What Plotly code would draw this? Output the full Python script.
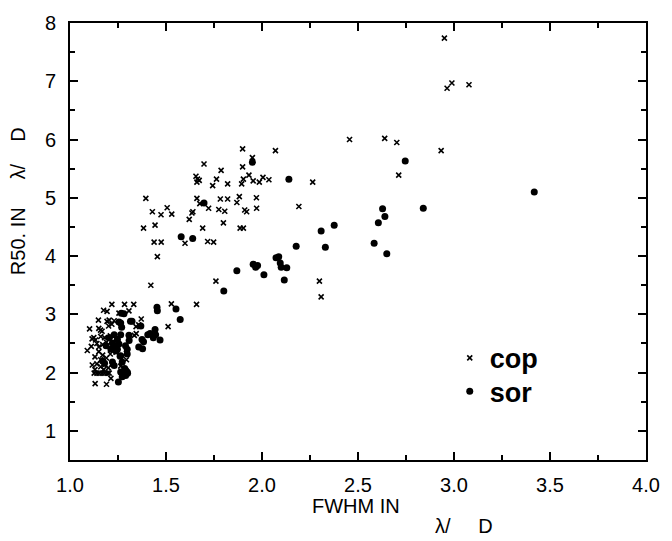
import plotly.graph_objects as go

# ---- data ----
cop_x = [2.950, 2.989, 2.964, 3.078, 2.456, 2.639, 2.702, 2.933, 2.712,
         1.899, 1.950, 2.070, 1.698, 1.787, 1.899,
         1.656, 1.664, 1.661, 1.673, 1.763, 1.743, 1.821, 1.903, 1.894, 1.932, 1.954, 1.986, 2.005, 2.036, 2.264,
         1.395, 1.661, 1.783, 1.821, 1.882, 1.971, 1.869, 2.192, 1.676, 1.722, 1.775, 1.806, 1.910, 1.920, 1.972,
         1.506, 1.429, 1.474, 1.530, 1.635, 1.640, 1.621, 1.383, 1.443, 1.691, 1.799, 1.886, 1.903,
         1.438, 1.475, 1.599, 1.717, 1.748, 1.455,
         1.760, 1.421, 2.299, 2.308,
         1.218, 1.284, 1.332, 1.528, 1.659, 1.511,
         1.175, 1.193, 1.307, 1.255,
         1.148, 1.204, 1.193, 1.230, 1.218, 1.201, 1.371, 1.344, 1.358,
         1.102, 1.150, 1.167, 1.159, 1.335, 1.345,
         1.124, 1.133, 1.115, 1.160, 1.180, 1.210, 1.240,
         1.090, 1.111, 1.140, 1.150, 1.170, 1.190, 1.220, 1.250,
         1.150, 1.170, 1.130, 1.160, 1.190, 1.210, 1.294, 1.294, 1.240,
         1.116, 1.140, 1.160, 1.180, 1.200, 1.264, 1.220,
         1.126, 1.140, 1.153, 1.167, 1.180, 1.194, 1.204,
         1.131, 1.190, 1.213, 1.130, 1.175]
cop_y = [7.74, 6.97, 6.88, 6.94, 6.00, 6.02, 5.95, 5.81, 5.39,
         5.84, 5.69, 5.81, 5.58, 5.47, 5.53,
         5.37, 5.32, 5.27, 5.30, 5.32, 5.21, 5.24, 5.32, 5.24, 5.39, 5.29, 5.27, 5.35, 5.31, 5.27,
         4.99, 4.99, 4.98, 4.98, 5.02, 5.00, 4.92, 4.85, 4.90, 4.82, 4.80, 4.77, 4.79, 4.76, 4.82,
         4.83, 4.76, 4.71, 4.72, 4.74, 4.76, 4.63, 4.48, 4.53, 4.48, 4.57, 4.48, 4.48,
         4.24, 4.24, 4.22, 4.25, 4.24, 3.99,
         3.57, 3.50, 3.57, 3.30,
         3.17, 3.17, 3.17, 3.18, 3.17, 2.79,
         3.07, 3.05, 3.06, 3.02,
         2.90, 2.90, 2.88, 2.89, 2.83, 2.80, 2.92, 2.79, 2.82,
         2.75, 2.76, 2.71, 2.73, 2.64, 2.67,
         2.60, 2.56, 2.58, 2.62, 2.60, 2.63, 2.58,
         2.38, 2.45, 2.50, 2.44, 2.48, 2.52, 2.46, 2.50,
         2.36, 2.30, 2.27, 2.22, 2.25, 2.32, 2.33, 2.22, 2.35,
         2.13, 2.15, 2.10, 2.13, 2.08, 2.11, 2.15,
         1.99, 1.99, 1.99, 1.99, 1.99, 1.99, 1.99,
         1.81, 1.80, 1.90, 2.05, 2.05]

sor_x = [1.950, 2.140, 1.698, 1.579, 1.639, 2.376, 2.308, 2.178, 2.330,
         2.073, 2.087, 2.095, 2.100, 2.129, 1.954, 1.967, 1.977, 1.869, 2.010, 2.116,
         1.801, 1.453, 1.455, 1.552, 1.574,
         2.628, 2.640, 2.606, 2.584, 2.650, 2.840, 3.418, 2.746,
         1.267, 1.281, 1.255, 1.264, 1.269, 1.323, 1.369, 1.315,
         1.405, 1.417, 1.443, 1.446, 1.434, 1.469, 1.375, 1.383,
         1.308, 1.358, 1.378, 1.289, 1.298, 1.298, 1.261, 1.307,
         1.221, 1.230, 1.247, 1.255, 1.239, 1.213, 1.188, 1.204, 1.230, 1.264, 1.247, 1.264, 1.272,
         1.221, 1.230, 1.170, 1.180,
         1.264, 1.281, 1.290, 1.298, 1.272, 1.290, 1.300, 1.285,
         1.252]
sor_y = [5.61, 5.32, 4.91, 4.33, 4.30, 4.53, 4.43, 4.17, 4.15,
         3.97, 3.99, 3.88, 3.81, 3.80, 3.86, 3.81, 3.84, 3.75, 3.68, 3.59,
         3.40, 3.12, 3.06, 3.09, 2.91,
         4.81, 4.68, 4.57, 4.22, 4.04, 4.82, 5.10, 5.63,
         3.02, 3.01, 2.87, 2.85, 2.78, 2.88, 2.80, 2.88,
         2.65, 2.67, 2.74, 2.65, 2.60, 2.56, 2.57, 2.53,
         2.55, 2.44, 2.41, 2.46, 2.40, 2.32, 2.28, 2.64,
         2.51, 2.46, 2.57, 2.49, 2.37, 2.40, 2.46, 2.60, 2.65, 2.65, 2.40, 2.29, 2.18,
         2.18, 2.12, 2.20, 2.16,
         2.01, 1.98, 1.95, 2.01, 1.93, 2.04, 1.99, 2.07,
         1.84]

x_ticks = [1.0, 1.5, 2.0, 2.5, 3.0, 3.5, 4.0]
y_ticks = [1, 2, 3, 4, 5, 6, 7, 8]

FONT = "Liberation Sans, Arial, sans-serif"
SP = "&nbsp;"

fig = go.Figure()
fig.add_trace(go.Scatter(x=cop_x, y=cop_y, mode="markers", name="cop", legend="legend",
                         marker=dict(symbol="x-thin", size=5, color="black",
                                     line=dict(color="black", width=1.6))))
fig.add_trace(go.Scatter(x=sor_x, y=sor_y, mode="markers", name="sor", legend="legend2",
                         marker=dict(symbol="circle", size=7, color="black",
                                     line=dict(width=0))))

axis_common = dict(showline=True, linewidth=2, linecolor="black", mirror="ticks",
                   ticks="inside", ticklen=8, tickwidth=2, tickcolor="black",
                   showgrid=False, zeroline=False,
                   tickfont=dict(family=FONT, size=20, color="black"))

fig.update_xaxes(range=[1, 4], tickvals=x_ticks, ticktext=[f"{v:.1f}" for v in x_ticks],
                 minor=dict(ticks="inside", ticklen=5, tickwidth=2, tickcolor="black", dtick=0.25,
                            showgrid=False),
                 ticklabelstandoff=6, **axis_common)
fig.update_yaxes(range=[0.5, 8], tickvals=y_ticks, ticktext=[str(v) for v in y_ticks],
                 minor=dict(ticks="inside", ticklen=5, tickwidth=2, tickcolor="black", dtick=0.5,
                            showgrid=False),
                 ticklabelstandoff=8, **axis_common)

fig.add_annotation(text="FWHM IN", xref="paper", yref="paper", x=(361 - 70) / 587, y=-(507 - 460) / 447,
                   showarrow=False, xanchor="center", yanchor="middle",
                   font=dict(family=FONT, size=20, color="black"))
fig.add_annotation(text="λ/" + SP * 5 + "D", xref="paper", yref="paper", x=(472 - 70) / 587, y=-(528 - 460) / 447,
                   showarrow=False, xanchor="center", yanchor="middle",
                   font=dict(family=FONT, size=20, color="black"))
fig.add_annotation(text="R50. IN" + SP * 5 + "λ/" + SP * 4 + "D", xref="paper", yref="paper",
                   x=-(70 - 17) / 587, y=(460 - 273) / 447, textangle=-90,
                   showarrow=False, xanchor="center", yanchor="bottom",
                   font=dict(family=FONT, size=20, color="black"))

leg_common = dict(xanchor="left", yanchor="top", bgcolor="rgba(0,0,0,0)", itemwidth=30,
                  font=dict(family=FONT, size=27, color="black", weight="bold"))
fig.update_layout(
    width=672, height=541,
    margin=dict(l=70, r=15, t=13, b=81),
    paper_bgcolor="white", plot_bgcolor="white",
    showlegend=True,
    legend=dict(x=(457 - 70) / 587, y=(460 - 331) / 447, **leg_common),
    legend2=dict(x=(457 - 70) / 587, y=(460 - 365) / 447, **leg_common),
)

fig.write_html("out.html")
